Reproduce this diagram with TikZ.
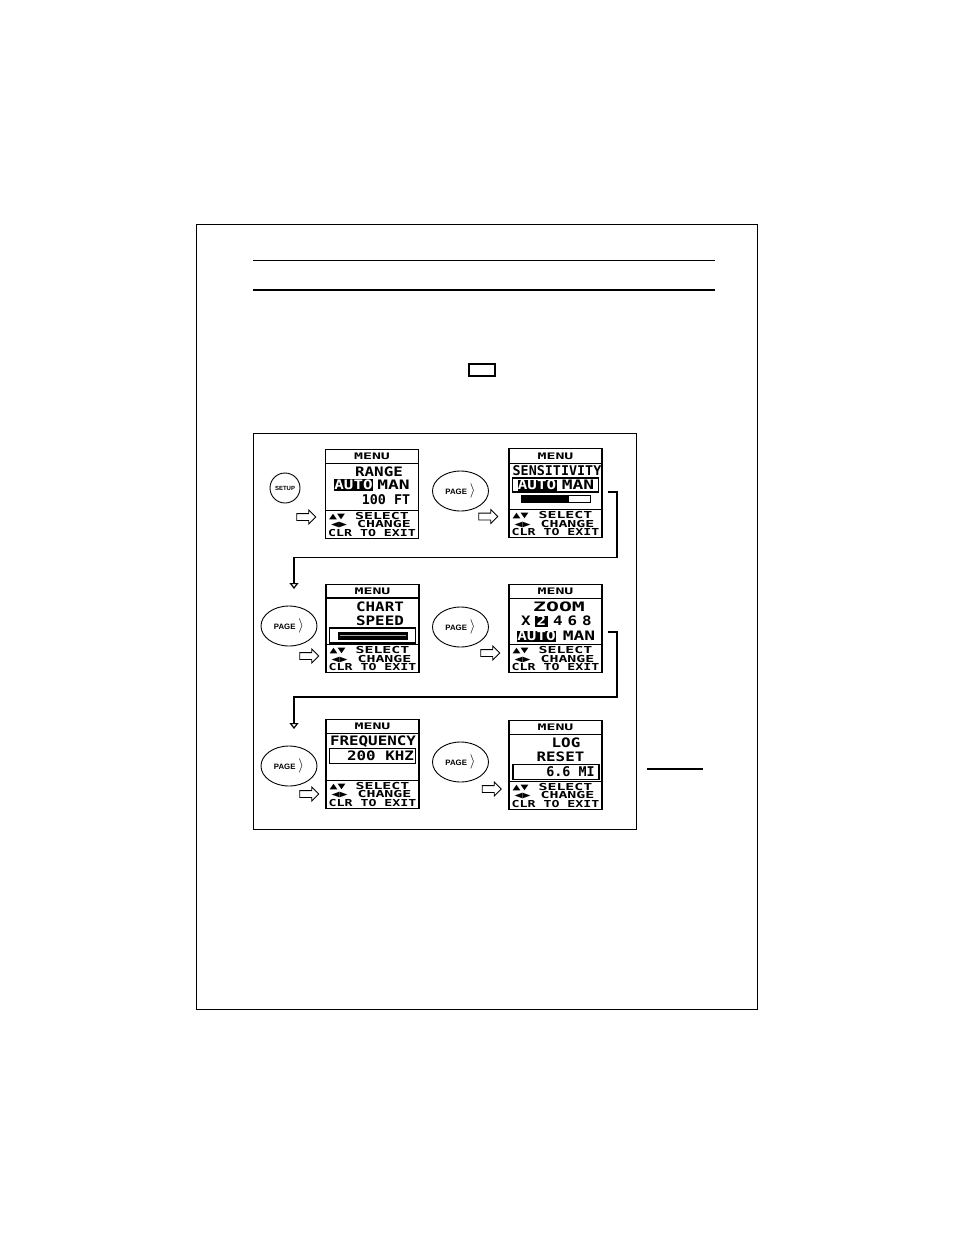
\documentclass[tikz,border=0pt]{standalone}
\usepackage{fontspec}
\usetikzlibrary{shapes.geometric,shapes.arrows,positioning,arrows.meta}
\setmainfont{Liberation Sans}
\newfontfamily\lcdtight{DejaVu Sans Mono}
\newfontfamily\lcdbig[FakeStretch=1.22]{DejaVu Sans Mono}
\newfontfamily\lcdsmall[FakeStretch=1.38]{DejaVu Sans Mono}
\newfontfamily\lcdwide[FakeStretch=1.55]{DejaVu Sans Mono}
\newfontfamily\lcdhead[FakeStretch=1.65]{DejaVu Sans Mono}
\newcommand{\lcdhelp}{\kern1pt▲▼\kern10pt{\lcdwide SELECT}\\\kern3pt◀▶\kern10pt{\lcdwide CHANGE}\\CLR TO EXIT}

\begin{document}
\begin{tikzpicture}[>={Triangle[open,width=9pt,length=6pt]},
  frame/.style={line width=1.2pt, outer sep=0pt},
  headbox/.style={draw, line width=1.3pt, outer sep=0pt, minimum width=93pt, minimum height=14.5pt, inner sep=0pt, font=\lcdhead\bfseries\fontsize{9}{9}\selectfont},
  bodybox/.style={draw, line width=1.3pt, outer sep=0pt, minimum width=93pt, minimum height=46.5pt, inner sep=0pt},
  footbox/.style={draw, line width=1.3pt, outer sep=0pt, minimum width=93pt, minimum height=28pt, inner sep=0pt, align=left, font=\lcdsmall\bfseries\fontsize{9.6}{8.7}\selectfont},
  lcdtext/.style={inner sep=0pt, font=\lcdbig\bfseries\fontsize{13}{13}\selectfont},
  lcdman/.style={inner sep=0pt, font=\lcdsmall\bfseries\fontsize{13}{13}\selectfont},
  lcdslim/.style={inner sep=0pt, font=\lcdtight\bfseries\fontsize{13.4}{13}\selectfont},
  lcdon/.style={lcdtext, fill=black, text=white, minimum width=39pt, minimum height=12pt},
  valuebox/.style={draw, line width=1.2pt, outer sep=0pt, inner sep=0pt, minimum width=86pt, minimum height=15pt},
  barbox/.style={draw, line width=1pt, inner sep=0pt, minimum height=7pt},
  pagekey/.style={draw, ellipse, line width=0.9pt, minimum width=56pt, minimum height=40pt, inner sep=0pt, font=\bfseries\fontsize{7.8}{9}\selectfont},
  setupkey/.style={draw, circle, line width=0.9pt, minimum size=30pt, inner sep=0pt, font=\bfseries\fontsize{6}{7}\selectfont},
  stepmark/.style={draw, single arrow, line width=0.8pt, minimum height=19pt, minimum width=13pt, single arrow head extend=3.5pt, single arrow head indent=0pt, inner sep=3pt},
  link/.style={->, line width=1.2pt}]
  \useasboundingbox (0pt, 0pt) rectangle (954pt, -1235pt);
  % page
  \draw (196.5pt, -224.5pt)node[minimum width=561pt, minimum height=785pt, anchor=north west, draw, frame, inner sep=0pt](page){};
  \draw (253pt, -260pt)coordinate(rulealeft);
  \draw (715pt, -260pt)coordinate(rulearight);
  \draw (253pt, -290pt)coordinate(rulebleft);
  \draw (715pt, -290pt)coordinate(rulebright);
  \draw[line width=1pt] (rulealeft) -- (rulearight);
  \draw[line width=2pt] (rulebleft) -- (rulebright);
  \draw (482pt, -370pt)node[draw, frame, minimum width=26pt, minimum height=12pt, inner sep=0pt](keybox){};
  \draw (253.5pt, -433.5pt)node[minimum width=383pt, minimum height=396pt, anchor=north west, draw, line width=1pt, outer sep=0pt, inner sep=0pt](panel){};
  \draw (647pt, -769pt)coordinate(markleft);
  \draw (703pt, -769pt)coordinate(markright);
  \draw[line width=2pt] (markleft) -- (markright);

  % keys
  \draw (285pt, -488pt)node[setupkey](setup){SETUP};
  \draw (460.5pt, -491pt)node[pagekey](pagea){PAGE\kern3pt{\fontsize{14}{14}\selectfont$\rangle$}};
  \draw (289pt, -626pt)node[pagekey](pageb){PAGE\kern3pt{\fontsize{14}{14}\selectfont$\rangle$}};
  \draw (460.5pt, -627pt)node[pagekey](pagec){PAGE\kern3pt{\fontsize{14}{14}\selectfont$\rangle$}};
  \draw (289pt, -766pt)node[pagekey](paged){PAGE\kern3pt{\fontsize{14}{14}\selectfont$\rangle$}};
  \draw (460.5pt, -762pt)node[pagekey](pagee){PAGE\kern3pt{\fontsize{14}{14}\selectfont$\rangle$}};
  \draw (304.5pt, -517pt)node[stepmark](marka){};
  \draw (486.5pt, -516.5pt)node[stepmark](markb){};
  \draw (307.5pt, -656pt)node[stepmark](markc){};
  \draw (488.5pt, -653pt)node[stepmark](markd){};
  \draw (307.5pt, -794pt)node[stepmark](marke){};
  \draw (490pt, -789pt)node[stepmark](markf){};

  % range
  \draw (372pt, -487pt)node[bodybox](range){};
  \node[headbox, above=0pt of range](rangehead){MENU};
  \node[footbox, below=0pt of range](rangefoot){\lcdhelp};
  \draw (379pt, -471.5pt)node[lcdtext](rangename){RANGE};
  \draw (353.5pt, -485pt)node[lcdon](rangeauto){AUTO};
  \draw (393.5pt, -485pt)node[lcdman](rangeman){MAN};
  \draw (386pt, -499.5pt)node[lcdslim](rangevalue){100 FT};

  % sensitivity
  \draw (555.5pt, -486.5pt)node[bodybox](sens){};
  \node[headbox, above=0pt of sens](senshead){MENU};
  \node[footbox, below=0pt of sens](sensfoot){\lcdhelp};
  \draw (557pt, -470.5pt)node[lcdslim](sensname){SENSITIVITY};
  \draw (555.5pt, -485pt)node[valuebox, minimum height=14pt](sensbox){};
  \draw (537pt, -485pt)node[lcdon, minimum height=11pt](sensauto){AUTO};
  \draw (578pt, -485pt)node[lcdman](sensman){MAN};
  \draw (555.5pt, -499pt)node[barbox, minimum width=69pt](sensbar){};
  \draw (545pt, -499pt)node[fill=black, inner sep=0pt, minimum width=48pt, minimum height=7pt](senslevel){};

  % chart speed
  \draw (372.5pt, -621.25pt)node[bodybox](chart){};
  \node[headbox, minimum height=13.5pt, above=0pt of chart](charthead){MENU};
  \node[footbox, below=0pt of chart](chartfoot){\lcdhelp};
  \draw (380pt, -606.5pt)node[lcdtext](chartname){CHART};
  \draw (380pt, -620.5pt)node[lcdtext](chartspeed){SPEED};
  \draw (372.5pt, -635.5pt)node[valuebox](chartbox){};
  \draw (373pt, -635.5pt)node[fill=black, inner sep=0pt, minimum width=70pt, minimum height=8pt](chartbar){};
  \draw (373pt, -635.5pt)node[fill=gray!70, inner sep=0pt, minimum width=66pt, minimum height=1.5pt](chartline){};

  % zoom
  \draw (555.5pt, -621.5pt)node[bodybox](zoom){};
  \node[headbox, minimum height=13.5pt, above=0pt of zoom](zoomhead){MENU};
  \node[footbox, below=0pt of zoom](zoomfoot){\lcdhelp};
  \draw (559pt, -606.5pt)node[inner sep=0pt, font=\lcdhead\bfseries\fontsize{13}{13}\selectfont](zoomname){ZOOM};
  \draw (526pt, -621pt)node[lcdtext](zoomx){X};
  \draw (541.5pt, -621pt)node[lcdtext, fill=black, text=white, minimum width=13pt, minimum height=11pt](zoomtwo){2};
  \draw (558pt, -621pt)node[lcdtext](zoomfour){4};
  \draw (572.5pt, -621pt)node[lcdtext](zoomsix){6};
  \draw (587pt, -621pt)node[lcdtext](zoomeight){8};
  \draw (536.5pt, -636pt)node[lcdon, minimum height=11pt](zoomauto){AUTO};
  \draw (579pt, -636pt)node[lcdman](zoomman){MAN};

  % frequency
  \draw (372.5pt, -757pt)node[bodybox](freq){};
  \node[headbox, above=0pt of freq](freqhead){MENU};
  \node[footbox, below=0pt of freq](freqfoot){\lcdhelp};
  \draw (373pt, -741.5pt)node[lcdtext](freqname){FREQUENCY};
  \draw (372.5pt, -756pt)node[valuebox](freqbox){};
  \draw (380.5pt, -756pt)node[lcdtext](freqvalue){200 KHZ};

  % log
  \draw (555.5pt, -758pt)node[bodybox](log){};
  \node[headbox, above=0pt of log](loghead){MENU};
  \node[footbox, below=0pt of log](logfoot){\lcdhelp};
  \draw (566pt, -742.5pt)node[lcdtext](logname){LOG};
  \draw (560.5pt, -756.5pt)node[lcdtext](logreset){RESET};
  \draw (556pt, -772pt)node[valuebox](logbox){};
  \draw (570.5pt, -772pt)node[lcdslim](logvalue){6.6 MI};

  % links
  \draw (608pt, -492pt)coordinate(senstail);
  \draw (617pt, -557.5pt)coordinate(sensturn);
  \draw (294pt, -589pt)coordinate(sensend);
  \draw (608pt, -632pt)coordinate(zoomtail);
  \draw (617pt, -697pt)coordinate(zoomturn);
  \draw (294pt, -729pt)coordinate(zoomend);
  \draw[link] (senstail) -| (sensturn) -| (sensend);
  \draw[link] (zoomtail) -| (zoomturn) -| (zoomend);
\end{tikzpicture}
\end{document}
